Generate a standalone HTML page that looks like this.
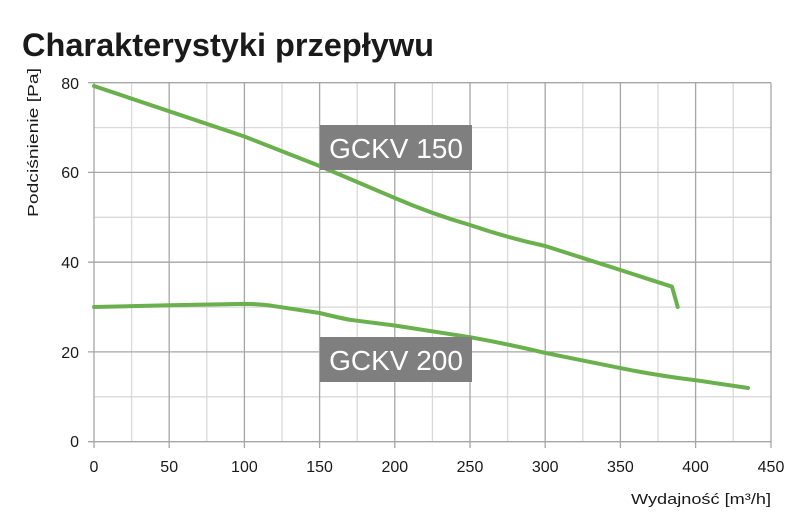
<!DOCTYPE html>
<html><head><meta charset="utf-8"><style>
body{margin:0;background:#fff;width:808px;height:527px;overflow:hidden}
svg{font-family:"Liberation Sans","DejaVu Sans",sans-serif}
</style></head><body>
<svg width="808" height="527" viewBox="0 0 808 527">
<text x="22" y="56" font-size="32" font-weight="bold" fill="#1a1a1a" textLength="412" lengthAdjust="spacingAndGlyphs">Charakterystyki przepływu</text>
<g stroke="#d9d9d9" stroke-width="1.3">
<line x1="131.6" y1="82.7" x2="131.6" y2="441.7"/><line x1="206.8" y1="82.7" x2="206.8" y2="441.7"/>
<line x1="282" y1="82.7" x2="282" y2="441.7"/><line x1="357.2" y1="82.7" x2="357.2" y2="441.7"/>
<line x1="432.4" y1="82.7" x2="432.4" y2="441.7"/><line x1="507.6" y1="82.7" x2="507.6" y2="441.7"/>
<line x1="582.8" y1="82.7" x2="582.8" y2="441.7"/><line x1="658" y1="82.7" x2="658" y2="441.7"/>
<line x1="733.2" y1="82.7" x2="733.2" y2="441.7"/>
<line x1="94" y1="127.6" x2="771" y2="127.6"/><line x1="94" y1="217.3" x2="771" y2="217.3"/>
<line x1="94" y1="307.1" x2="771" y2="307.1"/><line x1="94" y1="396.8" x2="771" y2="396.8"/>
</g>
<g stroke="#a6a6a6" stroke-width="1.3">
<line x1="94" y1="82.7" x2="94" y2="448"/><line x1="169.2" y1="82.7" x2="169.2" y2="448"/>
<line x1="244.4" y1="82.7" x2="244.4" y2="448"/><line x1="319.6" y1="82.7" x2="319.6" y2="448"/>
<line x1="394.8" y1="82.7" x2="394.8" y2="448"/><line x1="470" y1="82.7" x2="470" y2="448"/>
<line x1="545.2" y1="82.7" x2="545.2" y2="448"/><line x1="620.4" y1="82.7" x2="620.4" y2="448"/>
<line x1="695.6" y1="82.7" x2="695.6" y2="448"/><line x1="771" y1="82.7" x2="771" y2="448"/>
<line x1="88" y1="82.7" x2="771" y2="82.7"/><line x1="88" y1="172.4" x2="771" y2="172.4"/>
<line x1="88" y1="262.2" x2="771" y2="262.2"/><line x1="88" y1="351.9" x2="771" y2="351.9"/>
<line x1="88" y1="441.7" x2="771" y2="441.7"/>
</g>
<g font-size="16" fill="#1a1a1a" text-anchor="end">
<text x="79" y="89">80</text><text x="79" y="178">60</text><text x="79" y="268">40</text><text x="79" y="358">20</text><text x="79" y="447">0</text>
</g>
<g font-size="16" fill="#1a1a1a" text-anchor="middle">
<text x="94" y="472">0</text><text x="169.2" y="472">50</text><text x="244.4" y="472">100</text><text x="319.6" y="472">150</text><text x="394.8" y="472">200</text><text x="470" y="472">250</text><text x="545.2" y="472">300</text><text x="620.4" y="472">350</text><text x="695.6" y="472">400</text><text x="771" y="472">450</text>
</g>
<text transform="translate(38,217) rotate(-90)" font-size="15" fill="#1a1a1a" textLength="149" lengthAdjust="spacingAndGlyphs">Podciśnienie [Pa]</text>
<text x="631" y="504" font-size="15" fill="#1a1a1a" textLength="140" lengthAdjust="spacingAndGlyphs">Wydajność [m³/h]</text>
<g fill="none" stroke="#6ab04c" stroke-width="4" stroke-linejoin="round" stroke-linecap="round">
<path d="M94,86 L244.4,136.5 L319.6,166 Q357,182 394.8,198 Q432,214 470,225 Q508,238 545.2,246 L620.4,270 L672,286.7 L677.7,307"/>
<path d="M94,307 L169.2,305.3 L244.4,303.9 Q262,304 274.5,306.2 L319.6,313 Q340,318 350,319.8 L394.8,325.5 L470,337.2 Q508,344 545.2,352.9 L620.4,368.1 Q660,376 695.6,380.2 L748,388"/>
</g>
<rect x="320" y="125" width="152" height="45" fill="#7f7f7f"/>
<text x="396" y="158" font-size="28" fill="#fff" text-anchor="middle">GCKV 150</text>
<rect x="320" y="337" width="152" height="45" fill="#7f7f7f"/>
<text x="396" y="370" font-size="28" fill="#fff" text-anchor="middle">GCKV 200</text>
</svg>
</body></html>
